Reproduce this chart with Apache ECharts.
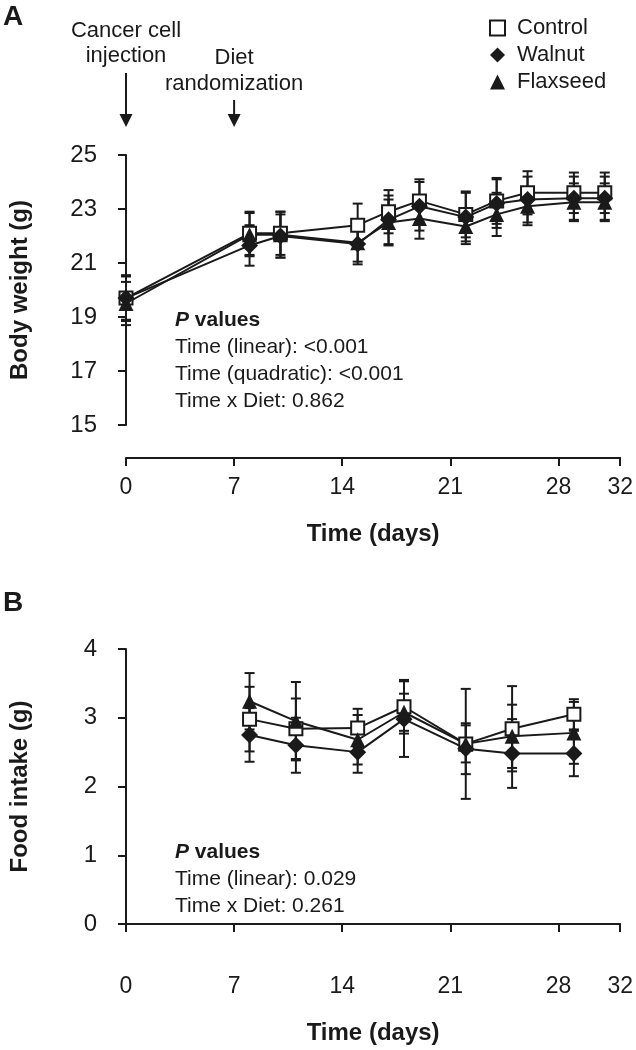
<!DOCTYPE html>
<html><head><meta charset="utf-8">
<script src="https://cdn.jsdelivr.net/npm/echarts@6/dist/echarts.min.js"></script>
<style>html,body{margin:0;padding:0;background:#fff}#c{width:636px;height:1050px}</style>
</head><body><div id="c"></div>
<script>
// ---- data ----
const seriesNames = ['Control', 'Walnut', 'Flaxseed'];
const xTicks = [0, 7, 14, 21, 28, 32];
const weightTicks = [15, 17, 19, 21, 23, 25];
const intakeTicks = [0, 1, 2, 3, 4];

const weightDays = [0, 8, 10, 15, 17, 19, 22, 24, 26, 29, 31];
const weightControl = [19.7, 22.1, 22.1, 22.4, 22.9, 23.3, 22.8, 23.3, 23.6, 23.6, 23.6];
const weightWalnut = [19.7, 21.65, 22.0, 21.7, 22.6, 23.1, 22.7, 23.2, 23.35, 23.4, 23.4];
const weightFlax = [19.5, 22.05, 22.05, 21.75, 22.5, 22.65, 22.35, 22.8, 23.1, 23.25, 23.25];
const weightControlErr = [0.85, 0.8, 0.8, 0.8, 0.8, 0.8, 0.85, 0.85, 0.8, 0.75, 0.75];
const weightWalnutErr = [0.8, 0.75, 0.8, 0.75, 0.9, 0.9, 0.9, 0.9, 0.85, 0.8, 0.8];
const weightFlaxErr = [0.8, 0.8, 0.85, 0.7, 0.85, 0.75, 0.65, 0.8, 0.7, 0.7, 0.7];

const intakeDays = [8, 11, 15, 18, 22, 25, 29];
const intakeControl = [2.98, 2.84, 2.85, 3.16, 2.62, 2.84, 3.05];
const intakeWalnut = [2.75, 2.6, 2.5, 2.98, 2.55, 2.48, 2.48];
const intakeFlax = [3.24, 2.95, 2.68, 3.08, 2.62, 2.73, 2.78];
const intakeControlErr = [0.47, 0.44, 0.28, 0.39, 0.8, 0.62, 0.22];
const intakeWalnutErr = [0.39, 0.4, 0.3, 0.55, 0.37, 0.5, 0.33];
const intakeFlaxErr = [0.41, 0.57, 0.36, 0.27, 0.27, 0.46, 0.45];

const eventDays = [0, 7];
const eventLabels = [['Cancer cell', 'injection'], ['Diet', 'randomization']];
const pTextA = ['Time (linear): <0.001', 'Time (quadratic): <0.001', 'Time x Diet: 0.862'];
const pTextB = ['Time (linear): 0.029', 'Time x Diet: 0.261'];

// ---- styles ----
const FONT = '"Liberation Sans", Arial, Helvetica, sans-serif';
const INK = '#1a1a1a';
const symbols = {
  Control: { symbol: 'rect', size: 13, itemStyle: { color: '#fff', borderColor: INK, borderWidth: 2 } },
  Walnut: { symbol: 'diamond', size: 17, itemStyle: { color: INK, borderColor: INK, borderWidth: 0 } },
  Flaxseed: { symbol: 'triangle', size: 15, itemStyle: { color: INK, borderColor: INK, borderWidth: 0 } }
};

function pairs(xs, ys) { return xs.map((x, i) => [x, ys[i]]); }
function errData(xs, ys, es) { return xs.map((x, i) => [x, ys[i] - es[i], ys[i] + es[i]]); }

function errRender(params, api) {
  const x = api.value(0), lo = api.value(1), hi = api.value(2);
  const a = api.coord([x, lo]), b = api.coord([x, hi]);
  const w = 5, st = { stroke: INK, lineWidth: 2 };
  return { type: 'group', children: [
    { type: 'line', shape: { x1: a[0], y1: a[1], x2: b[0], y2: b[1] }, style: st },
    { type: 'line', shape: { x1: a[0] - w, y1: a[1], x2: a[0] + w, y2: a[1] }, style: st },
    { type: 'line', shape: { x1: b[0] - w, y1: b[1], x2: b[0] + w, y2: b[1] }, style: st }
  ]};
}

function lineSeries(name, idx, xs, ys) {
  const s = symbols[name];
  return {
    type: 'line', name, xAxisIndex: idx, yAxisIndex: idx, data: pairs(xs, ys),
    symbol: s.symbol, symbolSize: s.size, showAllSymbol: true, itemStyle: s.itemStyle,
    lineStyle: { color: INK, width: 2 }, z: 5, animation: false, emphasis: { disabled: true }
  };
}
function errSeries(name, idx, xs, ys, es) {
  return {
    type: 'custom', name: name + ' error', xAxisIndex: idx, yAxisIndex: idx,
    data: errData(xs, ys, es), renderItem: errRender, encode: { x: 0, y: [1, 2] }, z: 3, animation: false
  };
}

function xAxis(idx) {
  return {
    type: 'value', gridIndex: idx, min: 0, max: 32, offset: 33,
    name: 'Time (days)', nameLocation: 'middle', nameGap: 64,
    nameTextStyle: { fontFamily: FONT, fontSize: 24, fontWeight: 'bold', color: INK },
    axisLine: { show: true, lineStyle: { color: INK, width: 2 } },
    axisTick: { show: true, length: 8, lineStyle: { color: INK, width: 2 }, customValues: xTicks },
    axisLabel: { fontFamily: FONT, fontSize: 23, color: INK, margin: 18, customValues: xTicks },
    splitLine: { show: false }
  };
}
function yAxis(idx, min, max, ticks, name) {
  return {
    type: 'value', gridIndex: idx, min, max, offset: 15,
    name, nameLocation: 'middle', nameGap: 79, nameRotate: 90,
    nameTextStyle: { fontFamily: FONT, fontSize: 24, fontWeight: 'bold', color: INK },
    axisLine: { show: true, lineStyle: { color: INK, width: 2 } },
    axisTick: { show: true, length: 8, lineStyle: { color: INK, width: 2 }, customValues: ticks },
    axisLabel: { fontFamily: FONT, fontSize: 24, color: INK, margin: 14, customValues: ticks },
    splitLine: { show: false }
  };
}

const chart = echarts.init(document.getElementById('c'), null, { renderer: 'canvas' });

const series = [
  errSeries('Control', 0, weightDays, weightControl, weightControlErr),
  errSeries('Walnut', 0, weightDays, weightWalnut, weightWalnutErr),
  errSeries('Flaxseed', 0, weightDays, weightFlax, weightFlaxErr),
  lineSeries('Control', 0, weightDays, weightControl),
  lineSeries('Walnut', 0, weightDays, weightWalnut),
  lineSeries('Flaxseed', 0, weightDays, weightFlax),
  errSeries('Control', 1, intakeDays, intakeControl, intakeControlErr),
  errSeries('Walnut', 1, intakeDays, intakeWalnut, intakeWalnutErr),
  errSeries('Flaxseed', 1, intakeDays, intakeFlax, intakeFlaxErr),
  lineSeries('Control', 1, intakeDays, intakeControl),
  lineSeries('Walnut', 1, intakeDays, intakeWalnut),
  lineSeries('Flaxseed', 1, intakeDays, intakeFlax)
];

chart.setOption({
  animation: false,
  backgroundColor: '#fff',
  grid: [
    { left: 125, width: 498, top: 155, height: 270 },
    { left: 125, width: 498, top: 649, height: 275 }
  ],
  xAxis: [xAxis(0), xAxis(1)],
  yAxis: [
    yAxis(0, 15, 25, weightTicks, 'Body weight (g)'),
    yAxis(1, 0, 4, intakeTicks, 'Food intake (g)')
  ],
  legend: {
    left: 489, top: 17, orient: 'vertical', itemWidth: 15, itemHeight: 15, itemGap: 5,
    selectedMode: false, padding: 0,
    textStyle: { fontFamily: FONT, fontSize: 22, lineHeight: 22, color: INK, padding: [0, 0, 0, 7] },
    data: seriesNames.map(n => ({
      name: n, icon: symbols[n].symbol,
      itemStyle: symbols[n].itemStyle
    }))
  },
  series
});

// annotations positioned through the axes
const g = [];
g.push({ type: 'text', left: 3, top: 3, style: { text: 'A', font: 'bold 28px ' + FONT, fill: INK } });
g.push({ type: 'text', left: 3, top: 589, style: { text: 'B', font: 'bold 28px ' + FONT, fill: INK } });

const tops = [[20, 45], [47, 73]];
const arrowTop = [73, 100];
eventDays.forEach((d, i) => {
  const px = chart.convertToPixel({ xAxisIndex: 0, yAxisIndex: 0 }, [d, 25])[0];
  eventLabels[i].forEach((t, j) => {
    g.push({ type: 'text', x: px, y: tops[i][j], style: { text: t, font: '22px ' + FONT, fill: INK, align: 'center', verticalAlign: 'top' } });
  });
  g.push({ type: 'line', shape: { x1: px, y1: arrowTop[i], x2: px, y2: 118 }, style: { stroke: INK, lineWidth: 2 } });
  g.push({ type: 'polygon', shape: { points: [[px - 6.5, 114], [px + 6.5, 114], [px, 127]] }, style: { fill: INK } });
});

function pBlock(x, y0, lines, gap) {
  g.push({ type: 'text', left: x, top: y0, style: {
    text: '{i|P}{b| values}', rich: {
      i: { font: 'italic bold 21px ' + FONT, fill: INK },
      b: { font: 'bold 21px ' + FONT, fill: INK }
    } } });
  lines.forEach((t, j) => g.push({ type: 'text', left: x, top: y0 + gap * (j + 1), style: { text: t, font: '21px ' + FONT, fill: INK } }));
}
pBlock(175, 310, pTextA, 27);
pBlock(175, 842, pTextB, 27);

chart.setOption({ graphic: g });
</script>
</body></html>
